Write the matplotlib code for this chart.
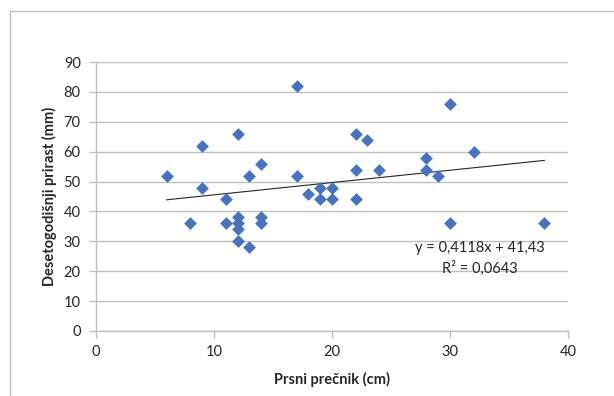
import matplotlib
matplotlib.use('Agg')
from matplotlib import pyplot as plt
from matplotlib.patches import Rectangle

plt.rcParams['font.family'] = ['Lato', 'DejaVu Sans']

# podaci
precnik = [6, 8, 9, 9, 11, 11, 12, 12, 12, 12, 12, 13, 13, 14, 14, 14, 17, 17,
           18, 19, 19, 20, 20, 22, 22, 22, 23, 24, 28, 28, 29, 30, 30, 32, 38]
prirast = [52, 36, 62, 48, 44, 36, 66, 38, 36, 34, 30, 52, 28, 56, 38, 36, 82, 52,
           46, 48, 44, 48, 44, 66, 54, 44, 64, 54, 58, 54, 52, 76, 36, 60, 36]

# linearni trend (iz grafikona)
nagib = 0.4118
odsecak = 41.43
tekst_trenda = ['y = 0,4118x + 41,43', 'R² = 0,0643']

x_ticks = [0, 10, 20, 30, 40]
y_ticks = [0, 10, 20, 30, 40, 50, 60, 70, 80, 90]

W, H = 614, 396
fig = plt.figure(figsize=(W / 100, H / 100), dpi=100)
fig.patches.append(Rectangle((10 / W, -0.1), 1.2, 1.1 - 11 / H,
                             transform=fig.transFigure, fill=False,
                             edgecolor='#bfbfbf', linewidth=1))

ax = fig.add_axes([96 / W, (H - 331) / H, (568 - 96) / W, (331 - 62) / H])

ax.scatter(precnik, prirast, marker='D', s=42, color='#4472C4', zorder=3,
           linewidths=0)

x0, x1 = min(precnik), max(precnik)
ax.plot([x0, x1], [nagib * x0 + odsecak, nagib * x1 + odsecak],
        color='#262626', linewidth=0.8, zorder=2)

ax.text(32.5, 27.8, tekst_trenda[0], ha='center', va='center', fontsize=10.5,
        color='#262626')
ax.text(32.5, 20.8, tekst_trenda[1], ha='center', va='center', fontsize=10.5,
        color='#262626')

ax.set_xlim(0, 40)
ax.set_ylim(0, 90)
ax.set_xticks(x_ticks)
ax.set_yticks(y_ticks)
ax.grid(axis='y', color='#bfbfbf', linewidth=1)
ax.set_axisbelow(True)

for s in ['top', 'right']:
    ax.spines[s].set_visible(False)
for s in ['left', 'bottom']:
    ax.spines[s].set_color('#bfbfbf')
    ax.spines[s].set_linewidth(1)
ax.tick_params(axis='both', colors='#bfbfbf', length=5, width=1,
               labelcolor='#262626', labelsize=10.5)
ax.tick_params(axis='y', pad=6)
ax.tick_params(axis='x', pad=5)

ax.set_xlabel('Prsni prečnik (cm)', fontsize=10.5, fontweight='bold',
              color='#262626', labelpad=9.5)
ax.set_ylabel('Desetogodišnji prirast (mm)', fontsize=10.5, fontweight='bold',
              color='#262626', labelpad=5)

fig.savefig('out.png', dpi=100)
